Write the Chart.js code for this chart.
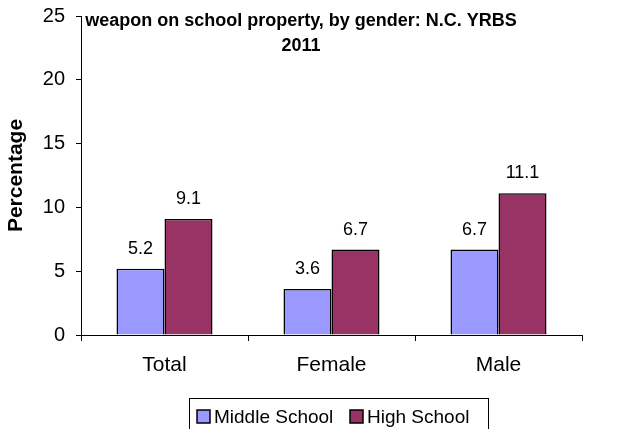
<!DOCTYPE html>
<html>
<head>
<meta charset="utf-8">
<script src="https://cdn.jsdelivr.net/npm/chart.js@4.4.1/dist/chart.umd.min.js"></script>
<style>
  html, body { margin: 0; padding: 0; background: #fff; }
  #wrap { width: 633px; height: 429px; position: relative; }
</style>
</head>
<body>
<div id="wrap"><canvas id="chart"></canvas></div>
<script>
const categories = ["Total", "Female", "Male"];
const middleSchool = [5.2, 3.6, 6.7];
const highSchool = [9.1, 6.7, 11.1];
const seriesNames = ["Middle School", "High School"];
const titleLines = ["weapon on school property, by gender: N.C. YRBS", "2011"];

const FONT = "Arial, 'Liberation Sans', sans-serif";
const COLORS = { middle: "#9999FF", high: "#993366", border: "#000000" };

// title lines, bar value labels and the boxed legend
const extrasPlugin = {
  id: "extras",
  afterDatasetsDraw(chart) {
    const ctx = chart.ctx;
    ctx.save();
    ctx.fillStyle = "#000";
    ctx.textAlign = "center";
    ctx.textBaseline = "alphabetic";
    ctx.font = "18px " + FONT;
    chart.data.datasets.forEach((ds, i) => {
      chart.getDatasetMeta(i).data.forEach((bar, j) => {
        ctx.fillText(ds.data[j].toFixed(1), bar.x, bar.y - 15);
      });
    });
    ctx.restore();
  },
  afterDraw(chart) {
    const ctx = chart.ctx;
    ctx.save();
    ctx.fillStyle = "#000";
    ctx.textAlign = "center";
    ctx.textBaseline = "middle";
    ctx.font = "bold 18px " + FONT;
    titleLines.forEach((line, i) => ctx.fillText(line, 301, 21 + i * 25));

    // legend
    ctx.font = "19px " + FONT;
    const boxL = 189, boxT = 398, boxR = 488, boxB = 440;
    ctx.strokeStyle = "#000";
    ctx.lineWidth = 1;
    ctx.strokeRect(boxL + 0.5, boxT + 0.5, boxR - boxL, boxB - boxT);
    const squareX = [197, 350];
    const cy = 417;
    ctx.textAlign = "left";
    chart.data.datasets.forEach((ds, i) => {
      const x = squareX[i];
      ctx.fillStyle = ds.backgroundColor;
      ctx.fillRect(x, cy - 7, 13, 13);
      ctx.lineWidth = 1.5;
      ctx.strokeRect(x, cy - 7, 13, 13);
      ctx.fillStyle = "#000";
      ctx.fillText(ds.label, x + 17, cy + 1);
    });
    ctx.restore();
  }
};

new Chart(document.getElementById("chart"), {
  type: "bar",
  data: {
    labels: categories,
    datasets: [
      { label: seriesNames[0], data: middleSchool, backgroundColor: COLORS.middle, borderColor: COLORS.border, borderWidth: 1.5 },
      { label: seriesNames[1], data: highSchool, backgroundColor: COLORS.high, borderColor: COLORS.border, borderWidth: 1.5 }
    ]
  },
  options: {
    responsive: true,
    maintainAspectRatio: false,
    animation: false,
    layout: { padding: { top: 16, right: 51, bottom: 49, left: 0 } },
    datasets: { bar: { categoryPercentage: 0.575, barPercentage: 1 } },
    plugins: {
      legend: { display: false },
      title: { display: false },
      tooltip: { enabled: false }
    },
    scales: {
      x: {
        grid: { drawOnChartArea: false, drawTicks: true, tickLength: 6, color: "#000" },
        border: { color: "#000", width: 1 },
        ticks: { color: "#000", font: { family: FONT, size: 21 }, padding: 12 },
        afterFit(scale) { scale.height = 45; scale.paddingLeft = 0; scale.paddingRight = 0; }
      },
      y: {
        min: 0,
        max: 25,
        ticks: { stepSize: 5, color: "#000", font: { family: FONT, size: 20 }, padding: 11 },
        grid: { drawOnChartArea: false, drawTicks: true, tickLength: 5, color: "#000" },
        border: { color: "#000", width: 1 },
        title: { display: true, text: "Percentage", color: "#000", font: { family: FONT, size: 21, weight: "bold" }, padding: { top: 4 } },
        afterFit(scale) { scale.width = 81; scale.paddingTop = 0; scale.paddingBottom = 0; }
      }
    }
  },
  plugins: [extrasPlugin]
});
</script>
</body>
</html>
